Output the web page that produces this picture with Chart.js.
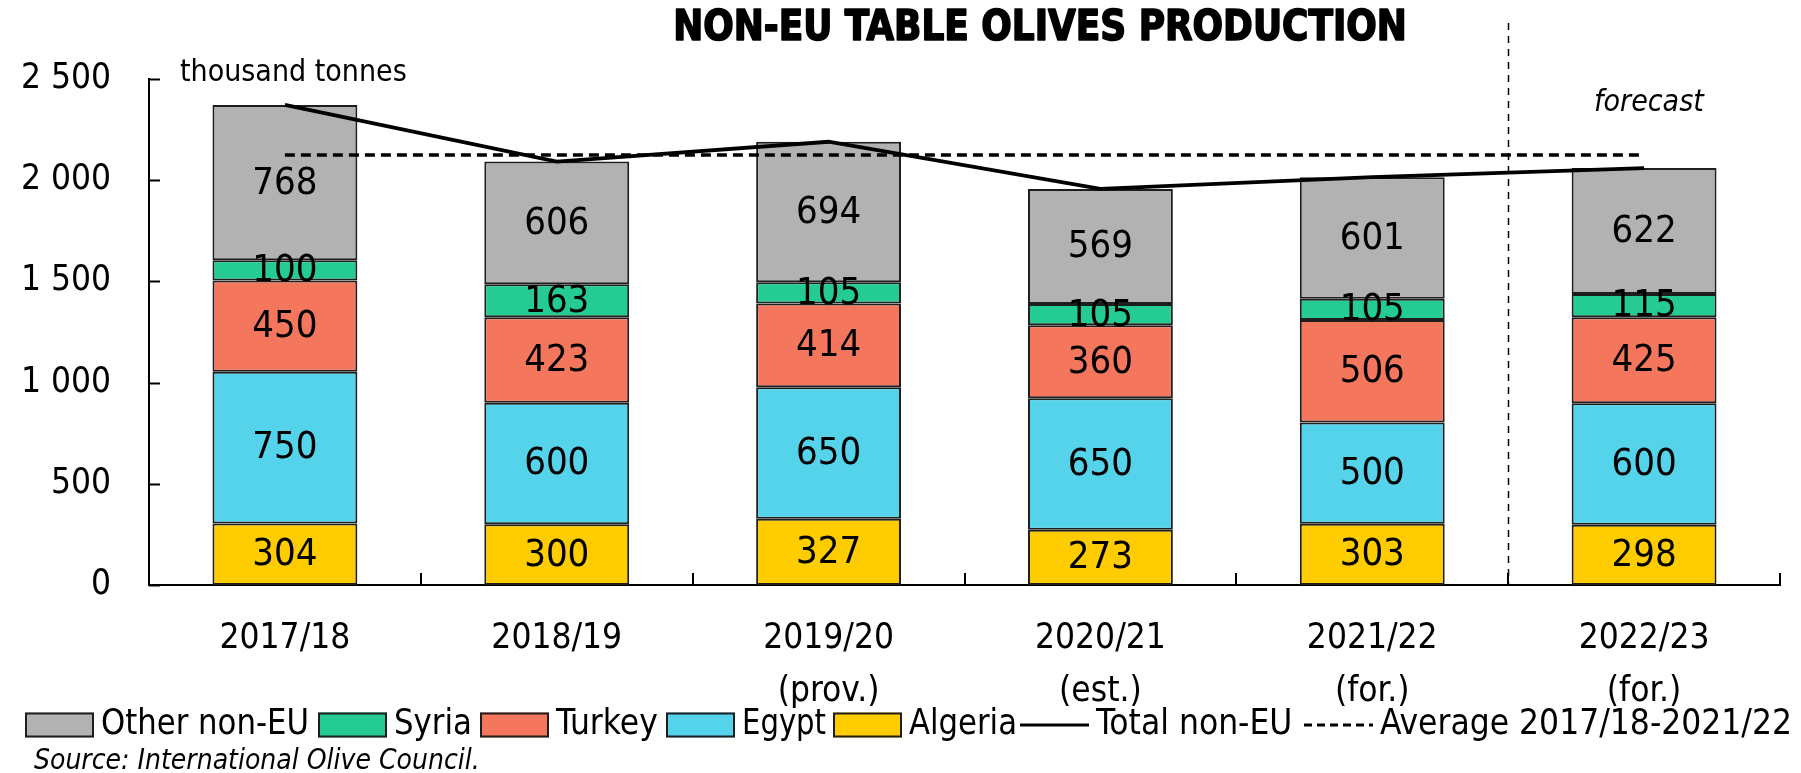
<!DOCTYPE html>
<html>
<head>
<meta charset="utf-8">
<script src="https://cdn.jsdelivr.net/npm/chart.js@4.4.1/dist/chart.umd.min.js"></script>
<style>
html,body{margin:0;padding:0;background:#fff;}
#wrap{width:1801px;height:773px;position:relative;}
</style>
</head>
<body>
<div id="wrap"><canvas id="c" width="1801" height="773"></canvas></div>
<script>
// ---- data ----
const categories = [['2017/18'], ['2018/19'], ['2019/20', '(prov.)'], ['2020/21', '(est.)'], ['2021/22', '(for.)'], ['2022/23', '(for.)']];
const algeria = [304, 300, 327, 273, 303, 298];
const egypt = [750, 600, 650, 650, 500, 600];
const turkey = [450, 423, 414, 360, 506, 425];
const syria = [100, 163, 105, 105, 105, 115];
const otherNonEU = [768, 606, 694, 569, 601, 622];
const totalNonEU = [2372, 2092, 2190, 1957, 2015, 2060];
const average = [2125, 2125, 2125, 2125, 2125, 2125];
const yTickValues = [0, 500, 1000, 1500, 2000, 2500];
const yTickLabels = ['0', '500', '1 000', '1 500', '2 000', '2 500'];
const legendOrder = ['Other non-EU', 'Syria', 'Turkey', 'Egypt', 'Algeria', 'Total non-EU', 'Average 2017/18-2021/22'];
const titleText = 'NON-EU TABLE OLIVES PRODUCTION';
const unitText = 'thousand tonnes';
const forecastText = 'forecast';
const sourceText = 'Source: International Olive Council.';

// legend layout (pixel positions of each legend symbol and max text widths)
const legendSymbolX = [25, 318, 480, 666, 833, 1020, 1304];
const legendTextMax = [208, 78, 104, 84, 108, 204, 416];

const FONT = "'DejaVu Sans Condensed', 'Liberation Sans Narrow', 'DejaVu Sans', sans-serif";
Chart.defaults.font.family = FONT;
Chart.defaults.color = '#000';

const BORDER = '#1e1e1e';
function barSet(label, data, color) {
  return { type: 'bar', label, data, backgroundColor: color, borderColor: BORDER, borderWidth: 2,
           borderSkipped: false, stack: 'bars', barPercentage: 0.533, categoryPercentage: 1 };
}

const decorPlugin = {
  id: 'decor',
  beforeDatasetsDraw(chart) {
    const { ctx, chartArea: ca, scales: { x, y } } = chart;
    ctx.save();
    ctx.strokeStyle = '#000';
    ctx.lineWidth = 2;
    yTickValues.forEach(v => {
      const py = Math.round(y.getPixelForValue(v)) + 0.5;
      ctx.beginPath(); ctx.moveTo(ca.left, py); ctx.lineTo(ca.left + 11, py); ctx.stroke();
    });
    for (let i = 0; i < categories.length; i++) {
      const px = Math.round(x.getPixelForValue(i + 0.5));
      ctx.beginPath(); ctx.moveTo(px, ca.bottom); ctx.lineTo(px, ca.bottom - 12); ctx.stroke();
    }
    const sx = Math.round(x.getPixelForValue(categories.length - 1.5)) + 0.5;
    ctx.lineWidth = 1.5;
    ctx.setLineDash([7, 6]);
    ctx.beginPath(); ctx.moveTo(sx, 23); ctx.lineTo(sx, ca.bottom); ctx.stroke();
    ctx.restore();
  },
  afterDatasetsDraw(chart) {
    const { ctx } = chart;
    ctx.save();
    ctx.fillStyle = '#000';
    ctx.textAlign = 'center';
    ctx.textBaseline = 'middle';
    ctx.font = '38px ' + FONT;
    chart.data.datasets.forEach((ds, i) => {
      if (ds.type !== 'bar') return;
      const meta = chart.getDatasetMeta(i);
      meta.data.forEach((el, j) => {
        const p = el.getProps(['x', 'y', 'base'], true);
        ctx.fillText(String(ds.data[j]), p.x, (p.y + p.base) / 2 + 1);
      });
    });
    ctx.restore();
  },
  afterDraw(chart) {
    const { ctx, chartArea: ca, scales: { x } } = chart;
    ctx.save();
    ctx.fillStyle = '#000';
    ctx.textBaseline = 'middle';
    // title (heavy)
    ctx.textAlign = 'center';
    ctx.font = 'bold 42px ' + FONT;
    ctx.save();
    ctx.translate(1040, 29);
    ctx.scale(0.95, 1);
    ctx.strokeStyle = '#000';
    ctx.lineWidth = 1.6;
    ctx.lineJoin = 'round';
    ctx.strokeText(titleText, 0, 0);
    ctx.fillText(titleText, 0, 0);
    ctx.restore();
    // unit
    ctx.textAlign = 'left';
    ctx.font = '30px ' + FONT;
    ctx.fillText(unitText, ca.left + 31, ca.top - 6);
    // forecast
    ctx.font = 'italic 30px ' + FONT;
    ctx.fillText(forecastText, x.getPixelForValue(categories.length - 1) - 50, ca.top + 24);
    // legend (custom, horizontal)
    const ly = 725;
    ctx.font = '35px ' + FONT;
    legendOrder.forEach((name, k) => {
      const ds = chart.data.datasets.find(d => d.label === name);
      const lx = legendSymbolX[k];
      const w = 69;
      ctx.save();
      if (ds.type === 'bar') {
        ctx.fillStyle = ds.backgroundColor;
        ctx.strokeStyle = BORDER;
        ctx.lineWidth = 2;
        ctx.fillRect(lx, ly - 12.5, w, 25);
        ctx.strokeRect(lx + 1, ly - 11.5, w - 2, 23);
      } else {
        ctx.strokeStyle = ds.borderColor;
        ctx.lineWidth = 3;
        ctx.setLineDash(ds.borderDash ? [8, 5] : []);
        ctx.beginPath(); ctx.moveTo(lx, ly); ctx.lineTo(lx + w, ly); ctx.stroke();
      }
      ctx.restore();
      ctx.fillStyle = '#000';
      ctx.textAlign = 'left';
      ctx.fillText(ds.label, lx + w + 7, ly, legendTextMax[k]);
    });
    // source
    ctx.font = 'italic 28px ' + FONT;
    ctx.fillText(sourceText, 34, 762);
    ctx.restore();
  }
};

new Chart(document.getElementById('c'), {
  data: {
    labels: categories,
    datasets: [
      barSet('Algeria', algeria, '#FFCC00'),
      barSet('Egypt', egypt, '#55D3EB'),
      barSet('Turkey', turkey, '#F4765D'),
      barSet('Syria', syria, '#24CC94'),
      barSet('Other non-EU', otherNonEU, '#B2B2B2'),
      { type: 'line', label: 'Total non-EU', data: totalNonEU, borderColor: '#000', backgroundColor: '#000',
        borderWidth: 3.8, pointRadius: 0, fill: false, tension: 0, order: -2, stack: 'tot' },
      { type: 'line', label: 'Average 2017/18-2021/22', data: average, borderColor: '#000', backgroundColor: '#000',
        borderWidth: 3.5, borderDash: [10, 6], pointRadius: 0, fill: false, order: -1, stack: 'avg' }
    ]
  },
  options: {
    responsive: false,
    animation: false,
    devicePixelRatio: 1,
    layout: { padding: { top: 79, left: 15, right: 21, bottom: 48 } },
    scales: {
      x: {
        stacked: true,
        offset: true,
        grid: { display: false, drawTicks: false },
        border: { display: true, color: '#000', width: 2 },
        ticks: { font: { size: 35, lineHeight: 1.5 }, padding: 28, maxRotation: 0, autoSkip: false, color: '#000' },
        afterFit: s => { s.height = 140; }
      },
      y: {
        stacked: true,
        min: 0, max: 2500,
        grid: { display: false, drawTicks: false },
        border: { display: true, color: '#000', width: 2 },
        ticks: {
          stepSize: 500, font: { size: 35 }, padding: 38, color: '#000',
          callback: (v) => { const k = yTickValues.indexOf(v); return k >= 0 ? yTickLabels[k] : ''; }
        },
        afterFit: s => { s.width = 134; }
      }
    },
    plugins: {
      tooltip: { enabled: false },
      title: { display: false },
      legend: { display: false }
    }
  },
  plugins: [decorPlugin]
});
</script>
</body>
</html>
